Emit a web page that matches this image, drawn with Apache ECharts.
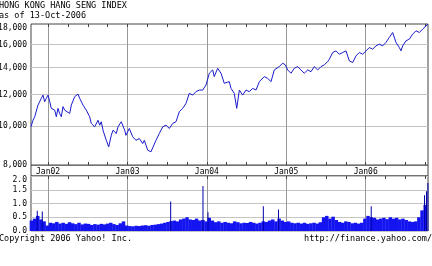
<!DOCTYPE html>
<html><head><meta charset="utf-8">
<script src="https://cdn.jsdelivr.net/npm/echarts@6/dist/echarts.min.js"></script>
<style>html,body{margin:0;padding:0;background:#fff}#c{width:432px;height:266px}</style>
</head><body><div id="c"></div>
<script>
const titleText = 'HONG KONG HANG SENG INDEX';
const subtitleText = 'as of 13-Oct-2006';
const copyrightText = 'Copyright 2006 Yahoo! Inc.';
const urlText = 'http://finance.yahoo.com/';

// decimal-year dates of index readings
const priceDates = [2001.785,2001.810,2001.832,2001.873,2001.915,2001.936,2001.957,2001.978,2002.000,2002.021,
2002.041,2002.083,2002.104,2002.125,2002.146,2002.167,2002.188,2002.209,2002.230,2002.272,
2002.293,2002.335,2002.377,2002.398,2002.440,2002.481,2002.524,2002.544,2002.587,2002.629,
2002.650,2002.670,2002.692,2002.733,2002.764,2002.796,2002.818,2002.859,2002.881,2002.922,
2002.965,2002.981,2003.023,2003.066,2003.107,2003.149,2003.192,2003.212,2003.255,2003.296,
2003.318,2003.359,2003.401,2003.444,2003.485,2003.527,2003.570,2003.611,2003.653,2003.696,
2003.737,2003.779,2003.822,2003.863,2003.905,2003.947,2003.989,2004.031,2004.073,2004.093,
2004.136,2004.178,2004.219,2004.241,2004.282,2004.304,2004.345,2004.376,2004.409,2004.451,
2004.493,2004.534,2004.577,2004.619,2004.661,2004.723,2004.766,2004.808,2004.849,2004.912,
2004.955,2004.988,2005.018,2005.059,2005.101,2005.144,2005.185,2005.227,2005.270,2005.311,
2005.353,2005.396,2005.437,2005.479,2005.522,2005.542,2005.585,2005.626,2005.668,2005.711,
2005.752,2005.794,2005.837,2005.878,2005.920,2005.962,2006.004,2006.046,2006.088,2006.130,
2006.172,2006.214,2006.256,2006.298,2006.340,2006.361,2006.382,2006.424,2006.445,2006.466,
2006.508,2006.550,2006.592,2006.634,2006.676,2006.718,2006.760,2006.785];
const priceValues = [9965,10350,10560,11290,11740,11960,11510,11740,11960,11510,
11080,10970,10560,11080,10760,10560,11190,10970,11080,10760,
11290,11850,12030,11740,11290,10970,10560,10160,9965,10350,
10060,10260,9770,9220,8880,9490,9770,9590,9965,10260,
9770,9490,9870,9410,9220,9320,9050,9220,8710,8630,
8540,9220,9590,9965,10060,9870,10160,10260,10870,11080,
11400,12080,11960,12200,12310,12310,12670,13560,13820,13300,
13950,13560,12800,12920,12920,12430,12080,11080,12310,11960,
12310,12200,12430,12310,12920,13300,13170,12920,13820,14090,
14370,14230,13820,13560,13950,14090,13820,13560,13820,13680,
14090,13820,14090,14230,14500,14700,15280,15420,15130,15280,
15420,14560,14420,14980,15280,15130,15420,15720,15570,15870,
16030,15870,16190,16670,17140,16980,16190,15720,15420,15870,
16340,16500,16980,17310,17140,17480,17810,17990];

// volume (billions), one reading every 0.04 year starting 2001.79
const volStart = 2001.79, volStep = 0.04;
const volumeValues = [0.38,0.45,0.55,0.42,0.35,0.20,0.30,0.28,0.33,0.27,
0.30,0.26,0.32,0.28,0.25,0.30,0.24,0.27,0.26,0.22,
0.25,0.23,0.26,0.24,0.27,0.30,0.25,0.22,0.28,0.35,
0.20,0.18,0.17,0.19,0.18,0.20,0.21,0.19,0.22,0.23,
0.25,0.27,0.30,0.33,0.36,0.38,0.35,0.42,0.45,0.50,
0.42,0.40,0.45,0.38,0.40,0.35,0.48,0.38,0.32,0.35,
0.30,0.33,0.30,0.28,0.35,0.32,0.28,0.30,0.29,0.33,
0.30,0.27,0.30,0.35,0.33,0.38,0.42,0.35,0.45,0.38,
0.33,0.35,0.30,0.28,0.30,0.27,0.30,0.26,0.28,0.30,
0.27,0.32,0.50,0.55,0.45,0.52,0.40,0.33,0.30,0.35,
0.33,0.28,0.30,0.27,0.30,0.45,0.55,0.50,0.48,0.42,
0.45,0.48,0.43,0.50,0.45,0.48,0.42,0.45,0.40,0.35,
0.33,0.35,0.50,0.75,0.95];
// single-day volume spikes
const spikeDates = [2001.864,2001.927,2003.544,2003.951,2004.014,2004.711,2004.902,2006.070,2006.741,2006.766,2006.784];
const spikeValues = [0.74,0.71,1.07,1.64,0.68,0.90,0.78,0.90,1.30,1.45,1.75];

const yLabelTicks = [8000,10000,12000,14000,16000,18000];
const yGridTicks = [10000,12000,14000,16000];
const yearTicks = [2002,2003,2004,2005,2006];
const xMin = 2001.785, xMax = 2006.785;
const quarterTicks = [];
yearTicks.forEach(y => { for (let q = 0; q < 4; q++) quarterTicks.push(y + q * 0.25); });

const FONT = 'DejaVu Sans Mono';
const priceData = priceDates.map((d, i) => [d, priceValues[i]]);
const volData = volumeValues.map((v, i) => [volStart + i * volStep, v]);
const spikeData = spikeDates.map((d, i) => [d, spikeValues[i]]);

const baseX = (grid) => ({gridIndex: grid, type: 'value', min: xMin, max: xMax});
const chart = echarts.init(document.getElementById('c'), null, {renderer: 'canvas'});
chart.setOption({
  animation: false,
  backgroundColor: '#fff',
  title: [
    {text: titleText, left: -1, top: 1, padding: 0, textStyle: {fontFamily: FONT, fontSize: 8.5, fontWeight: 'normal', color: '#000'}},
    {text: subtitleText, left: -1, top: 11, padding: 0, textStyle: {fontFamily: FONT, fontSize: 8.5, fontWeight: 'normal', color: '#000'}},
    {text: copyrightText, left: -1, top: 234, padding: 0, textStyle: {fontFamily: FONT, fontSize: 8.5, fontWeight: 'normal', color: '#000'}},
    {text: urlText, right: 0, top: 234, padding: 0, textStyle: {fontFamily: FONT, fontSize: 8.5, fontWeight: 'normal', color: '#000'}}
  ],
  graphic: [{type: 'rect', shape: {x: 31, y: 165, width: 397, height: 11}, style: {fill: '#fff', stroke: '#444', lineWidth: 1}, z: -1}],
  grid: [
    {left: 31, top: 24, width: 397, height: 141, outerBoundsMode: 'none', containLabel: false, show: true, borderColor: '#444', borderWidth: 1, backgroundColor: '#fff'},
    {left: 31, top: 176, width: 397, height: 55, outerBoundsMode: 'none', containLabel: false, show: true, borderColor: '#444', borderWidth: 1, backgroundColor: '#fff'}
  ],
  xAxis: [
    Object.assign(baseX(0), {position: 'bottom', axisLine: {show: false}, axisTick: {show: false, customValues: yearTicks},
      axisLabel: {customValues: yearTicks, margin: 3, fontFamily: FONT, fontSize: 8, color: '#000', formatter: v => 'Jan' + String(Math.round(v)).slice(2)},
      splitLine: {show: true, lineStyle: {color: '#999', width: 1}}}),
    Object.assign(baseX(0), {position: 'top', axisLine: {show: false}, axisTick: {show: true, inside: true, length: 3, customValues: quarterTicks, lineStyle: {color: '#444'}}, axisLabel: {show: false}, splitLine: {show: false}}),
    Object.assign(baseX(0), {position: 'bottom', axisLine: {show: false}, axisTick: {show: true, inside: true, length: 3, customValues: quarterTicks, lineStyle: {color: '#444'}}, axisLabel: {show: false}, splitLine: {show: false}}),
    Object.assign(baseX(1), {position: 'bottom', axisLine: {show: false}, axisTick: {show: false, customValues: yearTicks}, axisLabel: {show: false}, splitLine: {show: true, lineStyle: {color: '#999', width: 1}}}),
    Object.assign(baseX(1), {position: 'top', axisLine: {show: false}, axisTick: {show: true, inside: true, length: 3, customValues: quarterTicks, lineStyle: {color: '#444'}}, axisLabel: {show: false}, splitLine: {show: false}}),
    Object.assign(baseX(1), {position: 'bottom', show: false})
  ],
  yAxis: [
    {gridIndex: 0, type: 'log', min: 8000, max: 18000, axisLine: {show: false},
      axisTick: {show: false, customValues: yGridTicks},
      axisLabel: {customValues: yLabelTicks, margin: 4, fontFamily: FONT, fontSize: 8, color: '#000', verticalAlignMaxLabel: 'top'},
      splitLine: {show: true, lineStyle: {color: '#c4c4c4', width: 1}}},
    {gridIndex: 1, type: 'value', min: 0, max: 2, interval: 0.5, axisLine: {show: false}, axisTick: {show: false},
      axisLabel: {margin: 4, fontFamily: FONT, fontSize: 8, color: '#000', formatter: v => v.toFixed(1), verticalAlignMaxLabel: 'top'},
      splitLine: {show: true, lineStyle: {color: '#c4c4c4', width: 1}},
      name: 'Billions', nameLocation: 'middle', nameRotate: 90, nameGap: 23,
      nameTextStyle: {fontFamily: FONT, fontSize: 8.5, color: '#000'}}
  ],
  series: [
    {type: 'line', xAxisIndex: 0, yAxisIndex: 0, data: priceData, showSymbol: false, symbol: 'none',
      lineStyle: {color: '#1a1acc', width: 1}, z: 5},
    {type: 'bar', xAxisIndex: 3, yAxisIndex: 1, data: volData, barWidth: 3.5, itemStyle: {color: '#1414f0'}, z: 3},
    {type: 'bar', xAxisIndex: 5, yAxisIndex: 1, data: spikeData, barWidth: 1, itemStyle: {color: '#0000a8'}, z: 4}
  ]
});
</script></body></html>
